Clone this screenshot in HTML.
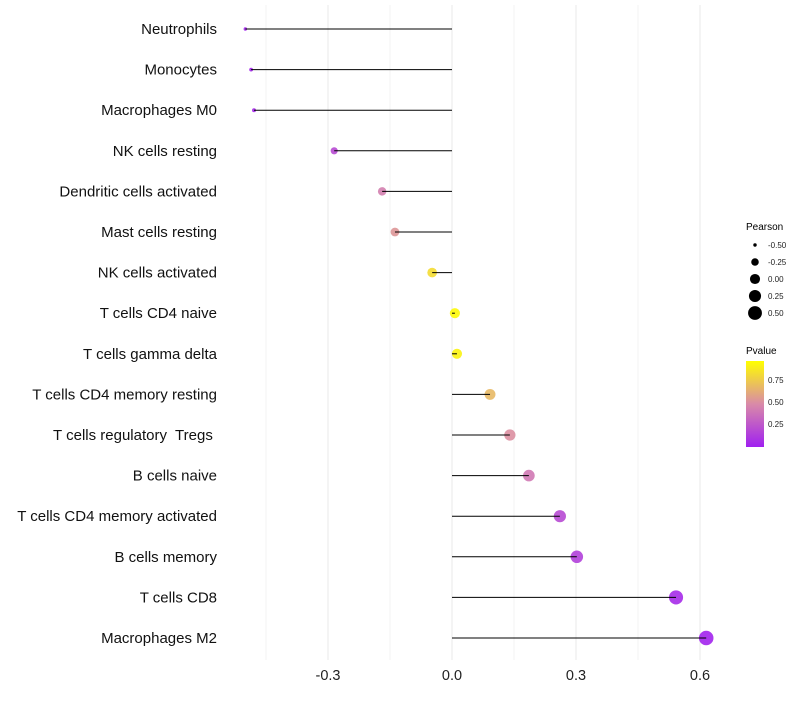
<!DOCTYPE html>
<html><head><meta charset="utf-8"><style>
body{margin:0;background:#fff;font-family:"Liberation Sans",sans-serif;}
svg text{font-family:"Liberation Sans",sans-serif;}
</style></head><body>
<svg id="chart" width="800" height="700">
<defs><linearGradient id="pg" x1="0" y1="1" x2="0" y2="0">
<stop offset="0" stop-color="#a020f0"/><stop offset="0.5" stop-color="#d98aa8"/><stop offset="1" stop-color="#ffff00"/>
</linearGradient></defs>
<g id="grid"></g><g id="marks"></g><g id="labels"></g>
<g id="legend">
<text x="746" y="230" font-size="10">Pearson</text>
<g id="sizeLegend"></g>
<text x="746" y="354" font-size="10">Pvalue</text>
<rect x="746" y="361" width="18" height="86" fill="url(#pg)"/>
<g id="colorTicks"></g>
</g>
</svg>
<script>
const categories=["Neutrophils","Monocytes","Macrophages M0","NK cells resting","Dendritic cells activated","Mast cells resting","NK cells activated","T cells CD4 naive","T cells gamma delta","T cells CD4 memory resting","T cells regulatory\u00a0 Tregs\u00a0","B cells naive","T cells CD4 memory activated","B cells memory","T cells CD8","Macrophages M2"];
const pearson=[-0.50,-0.486,-0.479,-0.285,-0.169,-0.138,-0.048,0.007,0.012,0.092,0.140,0.186,0.261,0.302,0.542,0.615];
const pvalue=[0.02,0.03,0.04,0.2,0.45,0.55,0.85,0.98,0.95,0.7,0.52,0.42,0.2,0.15,0.05,0.02];
const xTicks=[-0.3,0,0.3,0.6];
const xTickLabels=["-0.3","0.0","0.3","0.6"];
const sizeLegendValues=[-0.5,-0.25,0,0.25,0.5];
const sizeLegendLabels=["-0.50","-0.25","0.00","0.25","0.50"];
const colorLegendValues=[0.25,0.5,0.75];
const colorLegendLabels=["0.25","0.50","0.75"];

const NS="http://www.w3.org/2000/svg";
const xs=v=>452+v*413.33;
const ys=i=>29+i*40.6;
const rs=v=>Math.sqrt(3+(v+0.5)*45);
function lerp(a,b,t){return Math.round(a+(b-a)*t);}
function col(p){const s=[[160,32,240],[217,138,168],[255,255,0]];let t=p*2,a=s[0],b=s[1];if(t>1){t-=1;a=s[1];b=s[2];}return `rgb(${lerp(a[0],b[0],t)},${lerp(a[1],b[1],t)},${lerp(a[2],b[2],t)})`;}
function mk(tag,attrs,parent){const e=document.createElementNS(NS,tag);for(const k in attrs)e.setAttribute(k,attrs[k]);parent.appendChild(e);return e;}
const grid=document.getElementById('grid'),marks=document.getElementById('marks'),labels=document.getElementById('labels');
for(let k=-3;k<=4;k++){const v=k*0.15;const g=mk('line',{x1:xs(v),x2:xs(v),y1:5,y2:660,stroke:'#ebebeb','stroke-width':Math.abs(k)%2?0.6:1.1},grid);

}
xTicks.forEach((v,i)=>{const t=mk('text',{x:xs(v),y:680,'font-size':14.5,'text-anchor':'middle',fill:'#222'},labels);t.textContent=xTickLabels[i];

});
categories.forEach((c,i)=>{
const t=mk('text',{x:217,y:ys(i)+5,'font-size':15,'text-anchor':'end',fill:'#111'},labels);t.textContent=c;


const p=mk('circle',{cx:xs(pearson[i]),cy:ys(i),r:rs(pearson[i]),fill:col(pvalue[i]),'fill-opacity':0.9},marks);


const l=mk('line',{x1:xs(0),x2:xs(pearson[i]),y1:ys(i),y2:ys(i),stroke:'#000','stroke-width':1},marks);


});
const sl=document.getElementById('sizeLegend');
sizeLegendValues.forEach((v,i)=>{const y=245+i*17;
const c=mk('circle',{cx:755,cy:y,r:rs(v),fill:'#000'},sl);


const t=mk('text',{x:768,y:y+3,'font-size':8,fill:'#222'},sl);t.textContent=sizeLegendLabels[i];

});
const ct=document.getElementById('colorTicks');
colorLegendValues.forEach((v,i)=>{const y=446-v*88;
const t=mk('text',{x:768,y:y+3,'font-size':8,fill:'#222'},ct);t.textContent=colorLegendLabels[i];

});
</script>
</body></html>
